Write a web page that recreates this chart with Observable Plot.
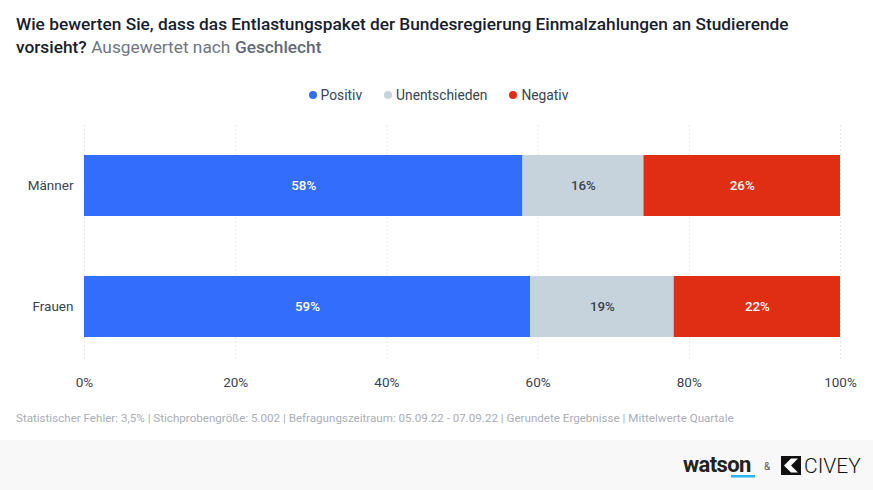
<!DOCTYPE html>
<html><head><meta charset="utf-8">
<script src="https://cdn.jsdelivr.net/npm/d3@7"></script>
<script src="https://cdn.jsdelivr.net/npm/@observablehq/plot@0.6"></script>
<style>
body{margin:0;width:873px;height:490px;overflow:hidden;background:#fff;font-family:Roboto,sans-serif;position:relative}
.t{position:absolute;font-size:17.3px;line-height:24px;white-space:nowrap}
.t1{left:16px;top:12px;font-weight:500;color:#18202e}
.t2{top:35px;font-weight:500;color:#18202e}
.t3{top:35px;font-weight:400;color:#6f7680}
.t4{top:35px;font-weight:500;color:#626a74}
#legend{position:absolute;top:87px;left:2px;width:873px;text-align:center;font-size:13.8px;color:#3a4350}
#legend span{display:inline-block;margin:0 11px}
#legend i{display:inline-block;width:8px;height:8px;border-radius:50%;margin-right:4px;vertical-align:1px}
#chart{position:absolute;left:0;top:120px}
#caption{position:absolute;left:16px;top:411px;font-size:11.6px;color:#a9aeb5}
#footer{position:absolute;left:0;top:440px;width:873px;height:50px;background:#f8f8f8}
</style></head>
<body>
<div class="t t1">Wie bewerten Sie, dass das Entlastungspaket der Bundesregierung Einmalzahlungen an Studierende</div>
<span class="t t2" id="t2">vorsieht?</span><span class="t t3" id="t3">Ausgewertet nach</span><span class="t t4" id="t4">Geschlecht</span>
<div id="legend"></div>
<div id="chart"></div>
<div id="caption">Statistischer Fehler: 3,5% | Stichprobengröße: 5.002 | Befragungszeitraum: 05.09.22 - 07.09.22 | Gerundete Ergebnisse | Mittelwerte Quartale</div>
<div id="footer">
<svg width="873" height="50" style="position:absolute;left:0;top:0">
<text x="683" y="32" font-family="Roboto" font-weight="700" font-size="22" fill="#222" letter-spacing="-0.6">watson</text>
<rect x="731" y="35" width="24" height="2.5" fill="#2ab4ea"/>
<text x="764" y="30" font-family="Roboto" font-size="10" fill="#555">&amp;</text>
<rect x="781" y="16" width="20" height="19" fill="#111"/>
<path d="M784 25.5 L791 18.5 L798 18.5 L791 25.5 L798 32.5 L791 32.5 Z" fill="#fff"/>
<text x="804" y="33" font-family="Roboto" font-weight="300" font-size="21" fill="#111">CIVEY</text>
</svg>
</div>
<script>
const groups = ["Männer", "Frauen"];
const categories = ["Positiv", "Unentschieden", "Negativ"];
const colors = ["#336dfb", "#c6d3dd", "#e02e15"];
const textColors = ["#ffffff", "#3a4350", "#ffffff"];
const positiv = [58, 59];
const unentschieden = [16, 19];
const negativ = [26, 22];
const xTicks = [0, 20, 40, 60, 80, 100];

// place subtitle pieces side by side on line 2
(function () {
  let x = 16;
  ["t2", "t3", "t4"].forEach(id => {
    const el = document.getElementById(id);
    el.style.left = x + "px";
    x += el.getBoundingClientRect().width + 4.5;
  });
})();

const series = [positiv, unentschieden, negativ];
const data = [];
groups.forEach((g, gi) => {
  categories.forEach((c, ci) => {
    data.push({group: g, cat: c, value: series[ci][gi], tc: textColors[ci]});
  });
});

const leg = document.getElementById("legend");
categories.forEach((c, i) => {
  const s = document.createElement("span");
  s.innerHTML = `<i style="background:${colors[i]}"></i>${c}`;
  leg.appendChild(s);
});

const chart = Plot.plot({
  width: 873,
  height: 280,
  marginLeft: 84,
  marginRight: 33,
  marginTop: 5,
  marginBottom: 33,
  style: {fontFamily: "Roboto, sans-serif", fontSize: "13.5px", color: "#3a4350", background: "transparent"},
  x: {domain: [0, 100], ticks: xTicks, tickFormat: d => d + "%", tickSize: 0, tickPadding: 10, label: null},
  y: {domain: groups, paddingInner: 0.5, paddingOuter: 0.25, tickSize: 0, tickPadding: 11, label: null},
  color: {domain: categories, range: colors},
  marks: [
    Plot.ruleX(xTicks, {stroke: "#e8e8e8", strokeDasharray: "2,2", insetBottom: 7}),
    Plot.barX(data, Plot.stackX({x: "value", y: "group", fill: "cat", order: categories})),
    Plot.text(data, Plot.stackX({x: "value", y: "group", z: "cat", order: categories, text: d => d.value + "%", fill: "tc", fontWeight: 500, fontSize: 13.3}))
  ]
});
document.getElementById("chart").appendChild(chart);
</script>
</body></html>
